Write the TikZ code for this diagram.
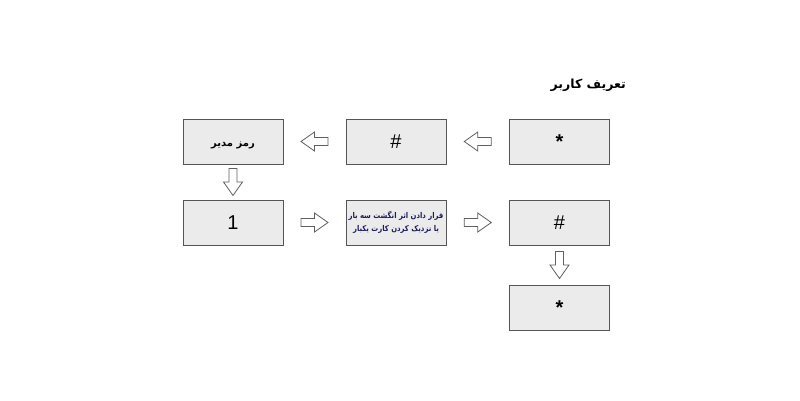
\documentclass[tikz,border=0pt]{standalone}
\usepackage{fontspec}
\setmainfont{Liberation Sans}
\newfontfamily\arabicfont[Script=Arabic]{DejaVu Sans}
\TeXXeTstate=1
\usetikzlibrary{calc}
\definecolor{boxfill}{HTML}{EBEBEB}
\definecolor{boxline}{HTML}{555555}
\definecolor{navytext}{HTML}{1C1C5C}
\definecolor{arrowline}{HTML}{606060}
\tikzset{
  stepbox/.style={draw=boxline, line width=1pt, fill=boxfill, minimum width=100pt, minimum height=45pt, inner sep=0pt, font=\fontsize{20}{22}\selectfont},
  barrow/.pic={\draw[draw=arrowline, line width=0.8pt, fill=white, line join=miter]
     (-13.5,-4) -- (0,-4) -- (0,-9.5) -- (13.5,0) -- (0,9.5) -- (0,4) -- (-13.5,4) -- cycle;}
}
\begin{document}
\begin{tikzpicture}[x=1pt,y=-1pt]
\useasboundingbox[fill=white] (0,0) rectangle (800,400);
\node[anchor=east, inner sep=0pt, font=\arabicfont\bfseries\fontsize{12.5}{15}\selectfont] (title) at (626,85) {\beginR تعریف کاربر\endR};
\node[stepbox] (b11) at (233,141.5) {\raisebox{-4.5pt}[0pt][0pt]{\arabicfont\bfseries\fontsize{10}{12}\selectfont\beginR رمز مدیر\endR}};
\node[stepbox] (b12) at (396,141.5) {\#};
\node[stepbox] (b13) at (559.5,141.5) {\textbf{*}};
\node[stepbox] (b21) at (233,222.5) {1};
\node[stepbox, align=center, text=navytext, font=\arabicfont\bfseries\fontsize{8}{13.5}\selectfont] (b22) at (396,222.5) {\scalebox{0.86}[1]{\beginR قرار دادن اثر انگشت سه بار\endR}\\\scalebox{0.86}[1]{\beginR یا نزدیک کردن کارت یکبار\endR}};
\node[stepbox] (b23) at (559.5,222.5) {\#};
\node[stepbox] (b33) at (559.5,307.5) {\textbf{*}};
\pic (a1) [rotate=180] at ($(b13.west)!0.5!(b12.east)$) {barrow};
\pic (a2) [rotate=180] at ($(b12.west)!0.5!(b11.east)$) {barrow};
\pic (a3) [rotate=-90] at ($(b11.south)!0.5!(b21.north)$) {barrow};
\pic (a4) at ($(b21.east)!0.5!(b22.west)$) {barrow};
\pic (a5) at ($(b22.east)!0.5!(b23.west)$) {barrow};
\pic (a6) [rotate=-90] at ($(b23.south)!0.5!(b33.north)$) {barrow};
\end{tikzpicture}
\end{document}
